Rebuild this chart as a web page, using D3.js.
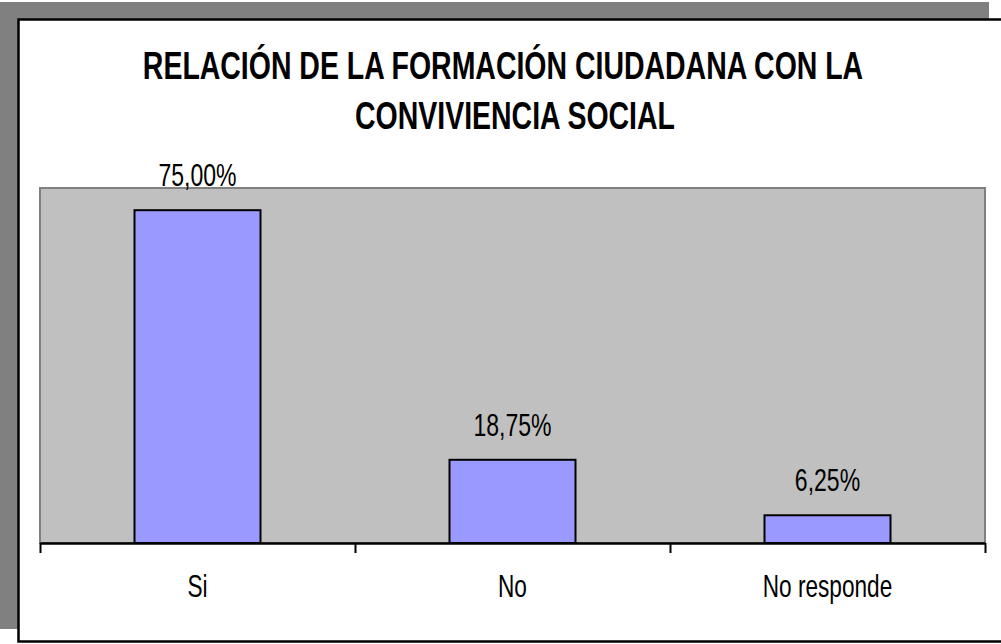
<!DOCTYPE html>
<html>
<head>
<meta charset="utf-8">
<script src="https://cdn.jsdelivr.net/npm/d3@7"></script>
<style>
  html, body { margin: 0; padding: 0; background: #ffffff; }
  svg { display: block; }
  text { font-family: "Liberation Sans", Arial, sans-serif; fill: #000; }
</style>
</head>
<body>
<svg id="chart" width="1001" height="644"></svg>
<script>
// Chart data
const titleLines = ["RELACIÓN DE LA FORMACIÓN CIUDADANA CON LA", "CONVIVIENCIA SOCIAL"];
const categories = ["Si", "No", "No responde"];
const values = [75.00, 18.75, 6.25];
const valueLabels = ["75,00%", "18,75%", "6,25%"];
const yDomain = [0, 80];

const svg = d3.select("#chart");

// Drop shadow and framed chart area
svg.append("rect").attr("x", 0).attr("y", 2).attr("width", 989).attr("height", 627).attr("fill", "#808080");
svg.append("rect").attr("x", 18.5).attr("y", 19.5).attr("width", 1010).attr("height", 622)
  .attr("fill", "#ffffff").attr("stroke", "#000").attr("stroke-width", 2.5);

// Plot area
const plot = { left: 40, right: 985, top: 188, bottom: 543 };

const x = d3.scaleBand()
  .domain(categories)
  .range([plot.left, plot.right])
  .paddingInner(0.6)
  .paddingOuter(0.3);

const xCell = d3.scaleBand().domain(categories).range([plot.left, plot.right]).padding(0);

const y = d3.scaleLinear().domain(yDomain).range([plot.bottom, plot.top]);

svg.append("rect")
  .attr("x", plot.left).attr("y", plot.top)
  .attr("width", plot.right - plot.left).attr("height", plot.bottom - plot.top)
  .attr("fill", "#C0C0C0").attr("stroke", "#808080").attr("stroke-width", 2);

// Horizontally condensed text: place at (x, y), then squeeze by k
function squeezed(g, cx, cy, k) {
  return g.attr("transform", (d, i) => `translate(${cx(d, i)},${cy(d, i)}) scale(${k},1)`)
    .attr("text-anchor", "middle");
}

// Bars
svg.append("g").selectAll("rect")
  .data(values)
  .join("rect")
  .attr("x", (d, i) => x(categories[i]))
  .attr("y", d => y(d))
  .attr("width", x.bandwidth())
  .attr("height", d => y(0) - y(d))
  .attr("fill", "#9999FF")
  .attr("stroke", "#000")
  .attr("stroke-width", 2);

// Value labels
svg.append("g").selectAll("text")
  .data(values)
  .join("text")
  .call(squeezed, (d, i) => x(categories[i]) + x.bandwidth() / 2, d => y(d) - 24, 0.72)
  .attr("font-size", 32)
  .text((d, i) => valueLabels[i]);

// Category axis with ticks on cell boundaries
const boundary = d3.scaleLinear().domain([0, categories.length]).range([plot.left, plot.right]);
const axis = svg.append("g")
  .attr("transform", `translate(0,${plot.bottom})`)
  .call(d3.axisBottom(boundary)
    .tickValues(d3.range(categories.length + 1))
    .tickFormat("")
    .tickSize(10)
    .tickSizeOuter(0));
axis.select(".domain").attr("stroke", "#000").attr("stroke-width", 2.5);
axis.selectAll(".tick line").attr("stroke", "#000").attr("stroke-width", 2);

// Category labels
svg.append("g").selectAll("text")
  .data(categories)
  .join("text")
  .call(squeezed, d => xCell(d) + xCell.bandwidth() / 2, () => 597, 0.73)
  .attr("font-size", 31)
  .text(d => d);

// Title, two condensed bold lines
const titleX = [503, 515];
const titleY = [79, 129];
svg.append("g").selectAll("text")
  .data(titleLines)
  .join("text")
  .call(squeezed, (d, i) => titleX[i], (d, i) => titleY[i], 0.73)
  .attr("font-size", 39)
  .attr("font-weight", "bold")
  .text(d => d);
</script>
</body>
</html>
